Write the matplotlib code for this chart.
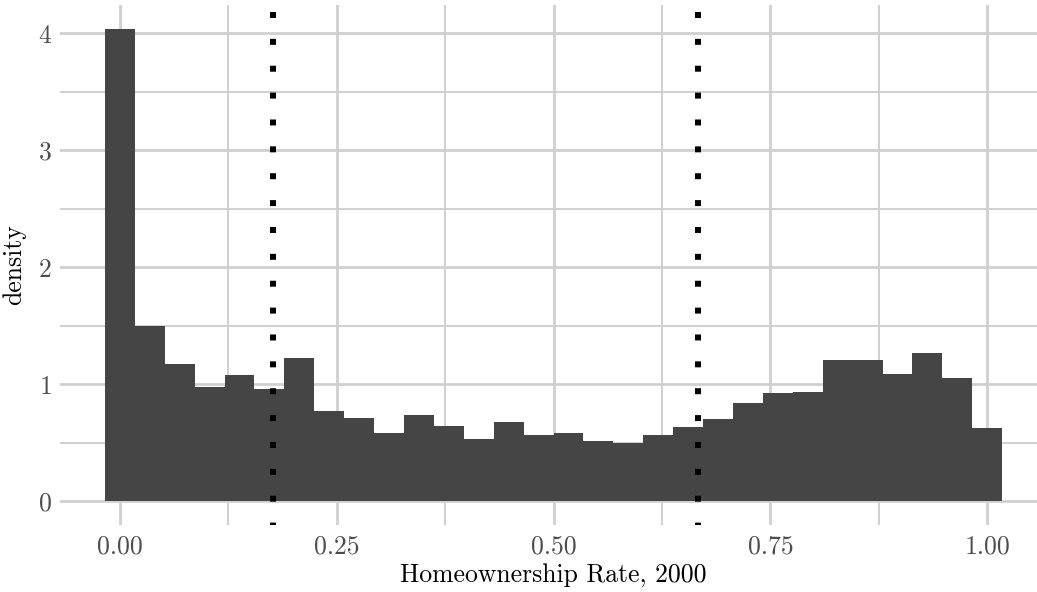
import matplotlib.pyplot as plt
import numpy as np

# histogram of homeownership rate (density scale), 30 bins centred on 0 and 1
bin_width = 1 / 29
bin_centers = np.arange(30) * bin_width
density = [4.04, 1.50, 1.17, 0.98, 1.08, 0.96, 1.225, 0.776, 0.71, 0.586,
           0.742, 0.648, 0.537, 0.677, 0.566, 0.583, 0.517, 0.495, 0.563, 0.637,
           0.705, 0.842, 0.924, 0.938, 1.211, 1.211, 1.092, 1.268, 1.052, 0.628]
cutoffs = [0.1765, 0.6667]

x_ticks = [0.0, 0.25, 0.5, 0.75, 1.0]
x_tick_labels = ['0.00', '0.25', '0.50', '0.75', '1.00']
y_ticks = [0, 1, 2, 3, 4]

plt.rcParams['font.family'] = 'cmr10'
plt.rcParams['axes.formatter.use_mathtext'] = True

width, height = 1037, 592
dpi = 100
fig = plt.figure(figsize=(width / dpi, height / dpi), dpi=dpi)
ax = fig.add_axes([60 / width, 67 / height, 987 / width, 520 / height])

x_lo = -0.5 * bin_width
x_hi = 29.5 * bin_width
x_pad = 0.05 * (x_hi - x_lo)
ax.set_xlim(x_lo - x_pad, x_hi + x_pad)
y_top = max(density)
ax.set_ylim(-0.05 * y_top, y_top * 1.05)

grid_col = '#d0d0d0'
for v in np.arange(0, 1.01, 0.125):
    ax.axvline(v, color=grid_col, lw=2.0 if v in x_ticks else 1.4, zorder=0)
for v in np.arange(0, 4.01, 0.5):
    ax.axhline(v, color=grid_col, lw=2.0 if v in y_ticks else 1.4, zorder=0)

ax.bar(bin_centers, density, width=bin_width, color='#454545', zorder=2)

for c in cutoffs:
    ax.axvline(c, color='black', lw=4.3, linestyle=(0.6, (1.0, 3.5)), zorder=3)

for s in ax.spines.values():
    s.set_visible(False)
ax.set_xticks(x_ticks)
ax.set_xticklabels(x_tick_labels)
ax.set_yticks(y_ticks)
ax.tick_params(length=0, labelsize=18.5, labelcolor='#4d4d4d', pad=7)
ax.tick_params(axis='y', pad=6)

ax.set_xlabel('Homeownership Rate, 2000', fontsize=18.5, labelpad=3)
ax.set_ylabel('density', fontsize=18.5, labelpad=8)

fig.savefig('out.png', dpi=dpi)
